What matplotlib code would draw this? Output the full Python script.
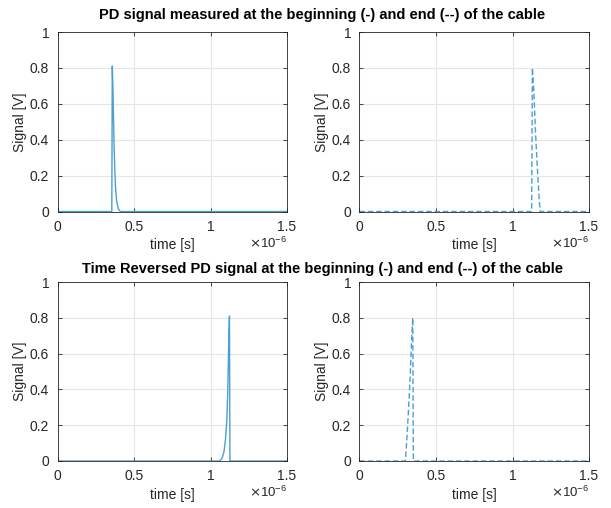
import matplotlib
matplotlib.use("Agg")
import matplotlib.pyplot as plt

plt.rcParams['font.family'] = ['Liberation Sans', 'DejaVu Sans']

# ---- data (time in microseconds, signal in volts) ----
t_begin = [0.0, 0.355, 0.358, 0.362, 0.366, 0.370, 0.375, 0.380, 0.388, 0.398, 0.410, 1.5]
s_begin = [0.0, 0.0, 0.81, 0.70, 0.52, 0.36, 0.22, 0.12, 0.05, 0.015, 0.0, 0.0]

t_end = [0.0, 1.125, 1.130, 1.140, 1.150, 1.160, 1.170, 1.180, 1.5]
s_end = [0.0, 0.0, 0.80, 0.66, 0.45, 0.28, 0.13, 0.0, 0.0]

t_rev_begin = [0.0, 1.060, 1.075, 1.088, 1.098, 1.106, 1.112, 1.116, 1.120, 1.124, 1.127, 1.130, 1.5]
s_rev_begin = [0.0, 0.0, 0.015, 0.05, 0.12, 0.22, 0.36, 0.52, 0.70, 0.81, 0.0, 0.0, 0.0]

t_rev_end = [0.0, 0.300, 0.310, 0.320, 0.330, 0.340, 0.348, 0.352, 1.5]
s_rev_end = [0.0, 0.0, 0.13, 0.28, 0.45, 0.66, 0.80, 0.0, 0.0]

x_ticks = [0, 0.5, 1, 1.5]
x_ticklabels = ['0', '0.5', '1', '1.5']
y_ticks = [0, 0.2, 0.4, 0.6, 0.8, 1]
y_ticklabels = ['0', '0.2', '0.4', '0.6', '0.8', '1']

title_top = 'PD signal measured at the beginning (-) and end (--) of the cable'
title_bottom = 'Time Reversed PD signal at the beginning (-) and end (--) of the cable'

line_color = '#4a9fd4'
text_color = '#262626'

fig = plt.figure(figsize=(6.11, 5.08), dpi=100)
W, H = 611, 508

def make_ax(x0, x1, ytop, ybot):
    return fig.add_axes([x0 / W, (H - ybot) / H, (x1 - x0) / W, (ybot - ytop) / H])

axes = [
    make_ax(57.5, 287, 32, 211.5),
    make_ax(359.5, 589, 32, 211.5),
    make_ax(57.5, 287, 282, 461),
    make_ax(359.5, 589, 282, 461),
]

series = [
    (t_begin, s_begin, '-'),
    (t_end, s_end, '--'),
    (t_rev_begin, s_rev_begin, '-'),
    (t_rev_end, s_rev_end, '--'),
]

for ax, (t, s, ls) in zip(axes, series):
    ax.plot(t, s, color=line_color, linestyle=ls, linewidth=1.0,
            dashes=(4, 2) if ls == '--' else (None, None))
    ax.set_xlim(0, 1.5)
    ax.set_ylim(0, 1)
    ax.set_xticks(x_ticks)
    ax.set_xticklabels(x_ticklabels)
    ax.set_yticks(y_ticks)
    ax.set_yticklabels(y_ticklabels)
    ax.grid(True, color='#e6e6e6', linewidth=0.8)
    ax.set_axisbelow(True)
    ax.tick_params(direction='in', length=3, width=0.6, colors=text_color,
                   labelsize=10, top=True, right=True, pad=6)
    for sp in ax.spines.values():
        sp.set_color('#262626')
        sp.set_linewidth(0.6)
    ax.set_xlabel('time [s]', fontsize=10, color=text_color, labelpad=3)
    ax.set_ylabel('Signal [V]', fontsize=10, color=text_color, labelpad=2)
    ax.text(1.0, -0.175, r'$\times\mathregular{10^{-6}}$', transform=ax.transAxes,
            ha='right', va='center', fontsize=9.5, color=text_color)

fig.text(322 / W, 1 - 15 / H, title_top, ha='center', va='center',
         fontsize=10.5, fontweight='bold', color='#000000')
fig.text(322 / W, 1 - 269 / H, title_bottom, ha='center', va='center',
         fontsize=10.5, fontweight='bold', color='#000000')

fig.savefig('out.png', dpi=100, facecolor='white')
